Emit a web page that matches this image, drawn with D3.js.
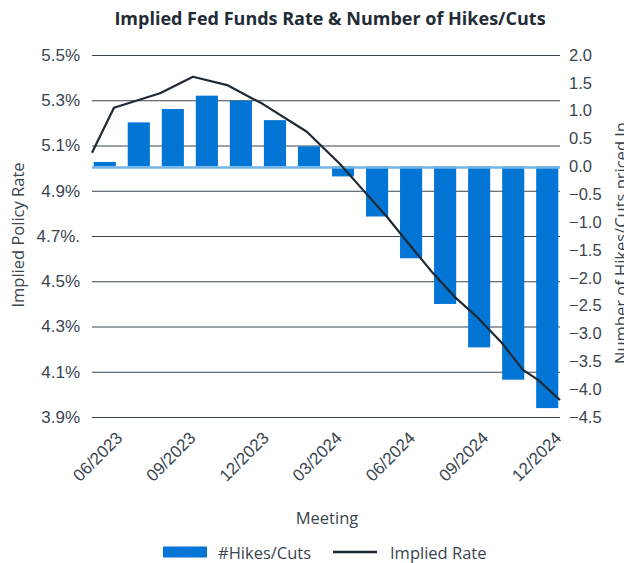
<!DOCTYPE html>
<html>
<head>
<meta charset="utf-8">
<script src="https://cdn.jsdelivr.net/npm/d3@7"></script>
<style>
  body { margin: 0; background: #fff; }
  svg { display: block; font-family: "Open Sans", "DejaVu Sans", sans-serif; }
</style>
</head>
<body>
<div id="chart"></div>
<script>
// Data
const meetings = ["05/2023", "06/2023", "07/2023", "09/2023", "11/2023", "12/2023", "01/2024",
    "03/2024", "05/2024", "06/2024", "07/2024", "09/2024", "11/2024", "12/2024"];
const hikesCuts = [0.08, 0.79, 1.03, 1.27, 1.18, 0.83, 0.36, -0.18, -0.90, -1.65, -2.47, -3.25, -3.83, -4.34];

// implied rate curve: months since Jan 2023 -> rate (%)
const rateMonths = [3.81, 4.71, 6.60, 7.95, 9.35, 10.82, 12.62, 13.98, 15.00, 15.91, 16.77, 17.79, 18.69, 19.60, 20.62, 21.48, 22.10, 23.00];
const rateValues = [5.068, 5.267, 5.331, 5.404, 5.367, 5.283, 5.161, 5.018, 4.894, 4.784, 4.669, 4.536, 4.430, 4.342, 4.227, 4.108, 4.064, 3.975];

const xTickMonths = [5, 8, 11, 14, 17, 20, 23];
const xTickLabels = ["06/2023", "09/2023", "12/2023", "03/2024", "06/2024", "09/2024", "12/2024"];
const leftTicks = [5.5, 5.3, 5.1, 4.9, 4.7, 4.5, 4.3, 4.1, 3.9];
const leftTickLabels = ["5.5%", "5.3%", "5.1%", "4.9%", "4.7%.", "4.5%", "4.3%", "4.1%", "3.9%"];
const rightTicks = [2.0, 1.5, 1.0, 0.5, 0.0, -0.5, -1.0, -1.5, -2.0, -2.5, -3.0, -3.5, -4.0, -4.5];

const width = 624, height = 563;
const plot = { left: 92, right: 560, top: 55, bottom: 417 };

const COLORS = {
    bar: "#0275d5",
    line: "#1f2934",
    zero: "#72b4e6",
    grid: "#3a4550",
    text: "#3a4550",
    title: "#222c36"
};

const svg = d3.select("#chart")
    .append("svg")
    .attr("width", width)
    .attr("height", height);

// Scales
const yLeft = d3.scaleLinear().domain([3.9, 5.5]).range([plot.bottom, plot.top]);
const yRight = d3.scaleLinear().domain([-4.5, 2.0]).range([plot.bottom, plot.top]);
const xBand = d3.scaleBand().domain(meetings).range([plot.left, plot.right])
    .paddingInner(0.35).paddingOuter(0.05);
const xTime = d3.scaleLinear().domain([3.81, 23]).range([plot.left, plot.right]);

// Gridlines (from left axis)
svg.append("g")
    .attr("transform", `translate(${plot.left},0)`)
    .call(d3.axisLeft(yLeft).tickValues(leftTicks).tickSize(-(plot.right - plot.left)).tickFormat(""))
    .call(g => g.select(".domain").remove())
    .call(g => g.selectAll("line").attr("stroke", COLORS.grid).attr("stroke-width", 1));

// Left axis labels
svg.append("g")
    .attr("transform", `translate(${plot.left},0)`)
    .call(d3.axisLeft(yLeft).tickValues(leftTicks).tickSize(0).tickPadding(12)
        .tickFormat((d, i) => leftTickLabels[i]))
    .call(g => g.select(".domain").remove())
    .call(g => g.selectAll("text")
        .attr("fill", COLORS.text)
        .style("font-size", "17px"));

// Right axis labels
svg.append("g")
    .attr("transform", `translate(${plot.right},0)`)
    .call(d3.axisRight(yRight).tickValues(rightTicks).tickSize(0).tickPadding(9)
        .tickFormat(d3.format(".1f")))
    .call(g => g.select(".domain").remove())
    .call(g => g.selectAll("text")
        .attr("fill", COLORS.text)
        .style("font-size", "16.5px"));

// Bars
svg.append("g")
    .selectAll("rect")
    .data(hikesCuts)
    .join("rect")
    .attr("x", (d, i) => xBand(meetings[i]))
    .attr("width", xBand.bandwidth())
    .attr("y", d => yRight(Math.max(0, d)))
    .attr("height", d => Math.abs(yRight(d) - yRight(0)))
    .attr("fill", COLORS.bar);

// Zero line
svg.append("line")
    .attr("x1", plot.left)
    .attr("x2", plot.right)
    .attr("y1", yRight(0) + 1)
    .attr("y2", yRight(0) + 1)
    .attr("stroke", COLORS.zero)
    .attr("stroke-width", 2.5);

// Implied rate line
const line = d3.line()
    .x((d, i) => xTime(rateMonths[i]))
    .y(d => yLeft(d));

svg.append("path")
    .datum(rateValues)
    .attr("d", line)
    .attr("fill", "none")
    .attr("stroke", COLORS.line)
    .attr("stroke-width", 2.2)
    .attr("stroke-linejoin", "round");

// X axis (rotated date labels)
svg.append("g")
    .attr("transform", `translate(0,${plot.bottom})`)
    .call(d3.axisBottom(xTime).tickValues(xTickMonths).tickSize(0)
        .tickFormat((d, i) => xTickLabels[i]))
    .call(g => g.select(".domain").remove())
    .call(g => g.selectAll("text")
        .attr("fill", COLORS.text)
        .style("font-size", "17px")
        .attr("text-anchor", "end")
        .attr("x", 0)
        .attr("y", 0)
        .attr("dy", 0)
        .attr("transform", "translate(2,22) rotate(-45)"));

// Titles
svg.append("text")
    .attr("x", 330)
    .attr("y", 25)
    .attr("text-anchor", "middle")
    .attr("fill", COLORS.title)
    .style("font-size", "18px")
    .style("font-weight", "bold")
    .text("Implied Fed Funds Rate & Number of Hikes/Cuts");

svg.append("text")
    .attr("transform", "translate(24,235) rotate(-90)")
    .attr("text-anchor", "middle")
    .attr("fill", COLORS.text)
    .style("font-size", "16.5px")
    .text("Implied Policy Rate");

svg.append("text")
    .attr("transform", "translate(627,243) rotate(-90)")
    .attr("text-anchor", "middle")
    .attr("fill", COLORS.text)
    .style("font-size", "16.5px")
    .text("Number of Hikes/Cuts priced In");

svg.append("text")
    .attr("x", 327)
    .attr("y", 524)
    .attr("text-anchor", "middle")
    .attr("fill", COLORS.text)
    .style("font-size", "16.5px")
    .text("Meeting");

// Legend
const legend = svg.append("g").attr("transform", "translate(0,552)");
legend.append("rect")
    .attr("x", 163).attr("y", -5.5)
    .attr("width", 44).attr("height", 11)
    .attr("fill", COLORS.bar);
legend.append("text")
    .attr("x", 218).attr("y", 0)
    .attr("dominant-baseline", "central")
    .attr("fill", COLORS.text)
    .style("font-size", "16.5px")
    .text("#Hikes/Cuts");
legend.append("line")
    .attr("x1", 333).attr("x2", 377)
    .attr("stroke", COLORS.line)
    .attr("stroke-width", 2.5);
legend.append("text")
    .attr("x", 390).attr("y", 0)
    .attr("dominant-baseline", "central")
    .attr("fill", COLORS.text)
    .style("font-size", "16.5px")
    .text("Implied Rate");
</script>
</body>
</html>
